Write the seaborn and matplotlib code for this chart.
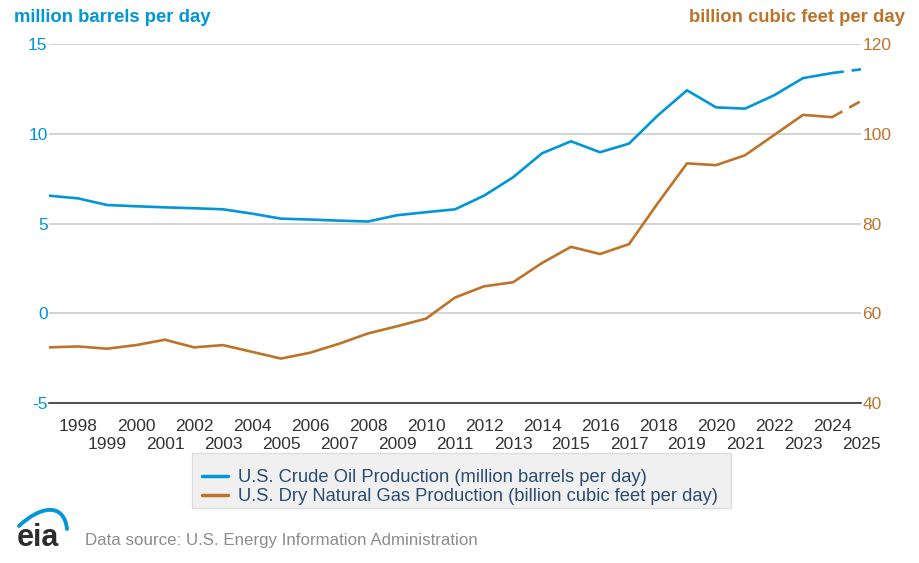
import matplotlib
matplotlib.use("Agg")
import matplotlib.pyplot as plt
import matplotlib.patches as mpatches
from matplotlib.path import Path
import numpy as np
import pandas as pd
import seaborn as sns

years = list(range(1997, 2026))
oil = [6.55, 6.40, 6.03, 5.96, 5.90, 5.85, 5.79, 5.55, 5.27, 5.22, 5.16, 5.11,
       5.46, 5.63, 5.79, 6.55, 7.57, 8.91, 9.58, 8.97, 9.45, 11.03, 12.42,
       11.47, 11.40, 12.14, 13.10, 13.38, 13.59]
gas = [52.4, 52.6, 52.1, 52.9, 54.1, 52.4, 52.9, 51.4, 49.9, 51.2, 53.2, 55.5,
       57.1, 58.8, 63.5, 66.0, 66.9, 71.2, 74.8, 73.2, 75.4, 84.6, 93.4, 93.0,
       95.2, 99.7, 104.2, 103.7, 107.3]
last_actual = 2024

oil_label = "U.S. Crude Oil Production (million barrels per day)"
gas_label = "U.S. Dry Natural Gas Production (billion cubic feet per day)"
oil_color = "#0096d7"
gas_color = "#bd732a"

df = pd.DataFrame({"year": years, "oil": oil, "gas": gas})
hist = df[df["year"] <= last_actual]
fcst = df[df["year"] >= last_actual]

sns.set_style("white")
plt.rcParams["font.family"] = ["Liberation Sans", "DejaVu Sans"]
plt.rcParams["axes.unicode_minus"] = False

fig = plt.figure(figsize=(9.2, 5.63), dpi=100)
ax = fig.add_axes([49 / 920, 1 - 403 / 563, 812 / 920, 359 / 563])
ax2 = ax.twinx()

sns.lineplot(data=hist, x="year", y="oil", ax=ax, color=oil_color, linewidth=1.9)
sns.lineplot(data=fcst, x="year", y="oil", ax=ax, color=oil_color, linewidth=1.9).lines[-1].set_dashes([4.5, 3])
sns.lineplot(data=hist, x="year", y="gas", ax=ax2, color=gas_color, linewidth=1.9)
sns.lineplot(data=fcst, x="year", y="gas", ax=ax2, color=gas_color, linewidth=1.9).lines[-1].set_dashes([4.5, 3])

ax.set_xlim(1997, 2025)
ax.set_ylim(-5, 15)
ax2.set_ylim(40, 120)
ax.set_yticks([-5, 0, 5, 10, 15])
ax2.set_yticks([40, 60, 80, 100, 120])
ax.yaxis.grid(True, color="#cccccc", linewidth=1.2)
ax.set_axisbelow(True)

even_years = [y for y in years[1:] if y % 2 == 0]
odd_years = [y for y in years[1:] if y % 2 == 1]
ax.set_xticks(even_years)
ax.set_xticklabels([str(y) for y in even_years])
ax.set_xticks(odd_years, minor=True)
ax.set_xticklabels([str(y) for y in odd_years], minor=True)

for a in (ax, ax2):
    a.set_xlabel("")
    a.set_ylabel("")
    for s in ("top", "left", "right", "bottom"):
        a.spines[s].set_visible(False)
ax.spines["bottom"].set_visible(True)
ax.spines["bottom"].set_color("#333333")
ax.spines["bottom"].set_linewidth(1.2)

ax.tick_params(axis="x", which="major", direction="out", length=2.5, width=1,
               color="#333333", labelsize=12.5, labelcolor="#333333", pad=9)
ax.tick_params(axis="x", which="minor", direction="out", length=2.5, width=1,
               color="#333333", labelsize=12.5, labelcolor="#333333", pad=22)
ax.tick_params(axis="y", length=0, labelsize=12.5, labelcolor=oil_color, pad=1)
ax2.tick_params(axis="y", length=0, labelsize=12.5, labelcolor=gas_color, pad=1)
ax2.tick_params(axis="x", which="both", length=0)

fig.text(14 / 920, 1 - 17 / 563, "million barrels per day", color=oil_color,
         fontsize=13.3, fontweight="bold", va="center", ha="left")
fig.text(905 / 920, 1 - 17 / 563, "billion cubic feet per day", color=gas_color,
         fontsize=13.3, fontweight="bold", va="center", ha="right")

# legend box drawn separately so the entries can sit where the reference has them
fig.add_artist(mpatches.Rectangle((192 / 920, 1 - 508 / 563), 539 / 920, 55 / 563,
                                  transform=fig.transFigure, facecolor="#f0f0f0",
                                  edgecolor="#dddddd", linewidth=1, zorder=0))
handles = [plt.Line2D([], [], color=oil_color, linewidth=2.5),
           plt.Line2D([], [], color=gas_color, linewidth=2.5)]
leg = fig.legend(handles, [oil_label, gas_label], loc="upper left",
                 bbox_to_anchor=(192 / 920, 1 - 459 / 563), frameon=False,
                 fontsize=13.2, handlelength=1.4, handletextpad=0.55,
                 labelspacing=0.12, borderpad=0.55, borderaxespad=0)
for t in leg.get_texts():
    t.set_color("#2b4c6f")

fig.text(85 / 920, 1 - 540 / 563, "Data source: U.S. Energy Information Administration",
         color="#8c8c8c", fontsize=12.2, va="center", ha="left")
fig.text(17 / 920, 1 - 546 / 563, "eia", color="#2d2d2d", fontsize=22,
         fontweight="bold", va="baseline", ha="left")

# swoosh of the logo, in pixel units
px = lambda x, y: (x / 920, 1 - y / 563)
swoosh = Path([px(19, 526), px(40, 506), px(64, 502), px(67, 529)],
              [Path.MOVETO, Path.CURVE4, Path.CURVE4, Path.CURVE4])
fig.add_artist(mpatches.PathPatch(swoosh, transform=fig.transFigure, fill=False,
                                  edgecolor=oil_color, linewidth=2.8,
                                  capstyle="round"))

fig.savefig("out.png", dpi=100)
